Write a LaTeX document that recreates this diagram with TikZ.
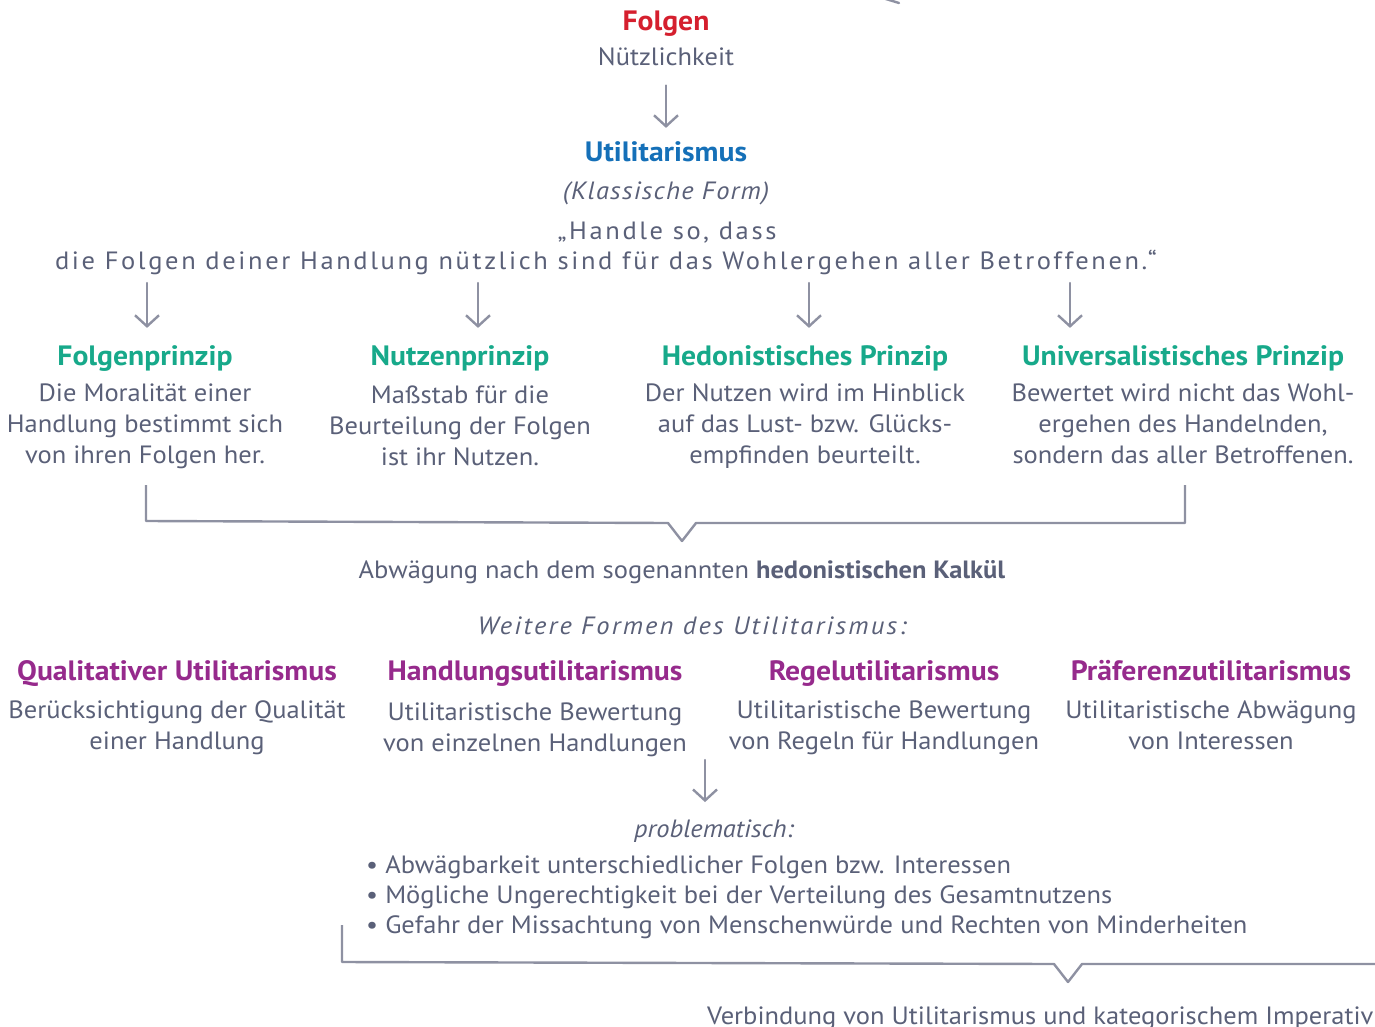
\documentclass[tikz,border=0pt]{standalone}
\usepackage{fontspec}
\setmainfont[FakeStretch=1.06]{PT Sans}
\newfontfamily\sperrfont[FakeStretch=1.06, LetterSpace=10.5]{PT Sans}
\newfontfamily\leichtsperrfont[FakeStretch=1.06, LetterSpace=5]{PT Sans}
\newfontfamily\weitersperrfont[FakeStretch=1.06, LetterSpace=9]{PT Sans}
\usetikzlibrary{arrows.meta, positioning}

\definecolor{folgenrot}{HTML}{D51F2E}
\definecolor{utilblau}{HTML}{1570B8}
\definecolor{prinzipgruen}{HTML}{17A98A}
\definecolor{formlila}{HTML}{962A8C}
\definecolor{textgrau}{HTML}{5A6078}
\definecolor{liniengrau}{HTML}{8E91A2}

\begin{document}
\begin{tikzpicture}[x=1pt, y=-1pt,
            txt/.style={text=textgrau, font=\fontsize{25}{31}\selectfont, align=center, inner sep=0pt, anchor=base},
            kopf/.style={font=\fontsize{28}{31}\selectfont\bfseries, inner sep=0pt, anchor=base},
            pfeil/.style={draw=liniengrau, line width=2.4pt, line cap=round, -{Straight Barb[length=11pt, width=24pt]}},
            klammer/.style={draw=liniengrau, line width=2.4pt, line join=round}
        ]
        \useasboundingbox (0,0) rectangle (1375,1027);
        \clip (0,0) rectangle (1375,1027);

        % Kopf
        \node[kopf, text=folgenrot] (folgen) at (666,31) {Folgen};
        \node[txt] (nutz) at (666,66) {Nützlichkeit};
        \node[kopf, text=utilblau] (util) at (666,162) {Utilitarismus};
        \node[txt, font=\fontsize{25}{31}\selectfont\leichtsperrfont\itshape] (form) at (666,200) {(Klassische Form)};
        \node[txt, font=\fontsize{25}{31}\selectfont\sperrfont] (zitat1) at (667,239) {„Handle so, dass};
        \node[txt, font=\fontsize{25}{31}\selectfont\sperrfont] (zitat2) at (606,269) {die Folgen deiner Handlung nützlich sind für das Wohlergehen aller Betroffenen.“};

        \draw[pfeil, shorten <=19pt, shorten >=14pt] (nutz) -- (util);

        % Prinzipien
        \node[kopf, text=prinzipgruen] (folgp) at (145,365) {Folgenprinzip};
        \node[kopf, text=prinzipgruen] (nutzp) at (460,365) {Nutzenprinzip};
        \node[kopf, text=prinzipgruen] (hedp) at (805,365) {Hedonistisches Prinzip};
        \node[kopf, text=prinzipgruen] (univp) at (1183,365) {Universalistisches Prinzip};

        % (anchor base = letzte Zeile)
        \node[txt] (folgt) at (145,463) {Die Moralität einer\\Handlung bestimmt sich\\von ihren Folgen her.};
        \node[txt] (nutzt) at (460,465) {Maßstab für die\\Beurteilung der Folgen\\ist ihr Nutzen.};
        \node[txt] (hedt) at (805,463) {Der Nutzen wird im Hinblick\\auf das Lust- bzw. Glücks-\\empfinden beurteilt.};
        \node[txt] (univt) at (1183,463) {Bewertet wird nicht das Wohl-\\ergehen des Handelnden,\\sondern das aller Betroffenen.};

        \coordinate (p1) at (147,283);
        \coordinate (p2) at (478,283);
        \coordinate (p3) at (809,283);
        \coordinate (p4) at (1070,283);
        \foreach \p/\k in {p1/folgp, p2/nutzp, p3/hedp, p4/univp}
            \draw[pfeil, shorten >=17pt] (\p) -- (\p |- \k.north);

        % Klammer
        \draw[klammer] (146,485) -- (146,521) -- (668,523) -- (682,541) -- (696,523) -- (1185,523) -- (1185,485);
        \node[txt] (kalkuel) at (682,578) {Abwägung nach dem sogenannten \textbf{hedonistischen Kalkül}};

        % Weitere Formen
        \node[txt, font=\fontsize{25}{31}\selectfont\weitersperrfont\itshape] (weitere) at (692,634) {Weitere Formen des Utilitarismus:};

        \node[kopf, text=formlila] (qual) at (177,680) {Qualitativer Utilitarismus};
        \node[kopf, text=formlila] (handl) at (535,680) {Handlungsutilitarismus};
        \node[kopf, text=formlila] (regel) at (884,680) {Regelutilitarismus};
        \node[kopf, text=formlila] (praef) at (1211,680) {Präferenzutilitarismus};

        \node[txt] (qualt) at (177,749) {Berücksichtigung der Qualität\\einer Handlung};
        \node[txt] (handlt) at (535,751) {Utilitaristische Bewertung\\von einzelnen Handlungen};
        \node[txt] (regelt) at (884,749) {Utilitaristische Bewertung\\von Regeln für Handlungen};
        \node[txt] (praeft) at (1211,749) {Utilitaristische Abwägung\\von Interessen};

        % Probleme
        \node[txt, font=\fontsize{25}{31}\selectfont\itshape] (probl) at (714,837) {problematisch:};
        \coordinate (p5) at (705,760);
        \draw[pfeil, shorten >=17pt] (p5) -- (p5 |- probl.north);

        \node[txt, align=left, anchor=base west, font=\fontsize{25}{30}\selectfont] (liste) at (366,933) {• Abwägbarkeit unterschiedlicher Folgen bzw. Interessen\\• Mögliche Ungerechtigkeit bei der Verteilung des Gesamtnutzens\\• Gefahr der Missachtung von Menschenwürde und Rechten von Minderheiten};

        \draw[klammer] (342,925) -- (342,962) -- (1054,964) -- (1068,982) -- (1082,964) -- (1380,964);
        \node[txt, anchor=base west] (verbind) at (707,1024) {Verbindung von Utilitarismus und kategorischem Imperativ};

        % Rest eines Pfeils oben
        \draw[klammer, line cap=round] (876,-4) -- (899,3);
    \end{tikzpicture}
\end{document}
